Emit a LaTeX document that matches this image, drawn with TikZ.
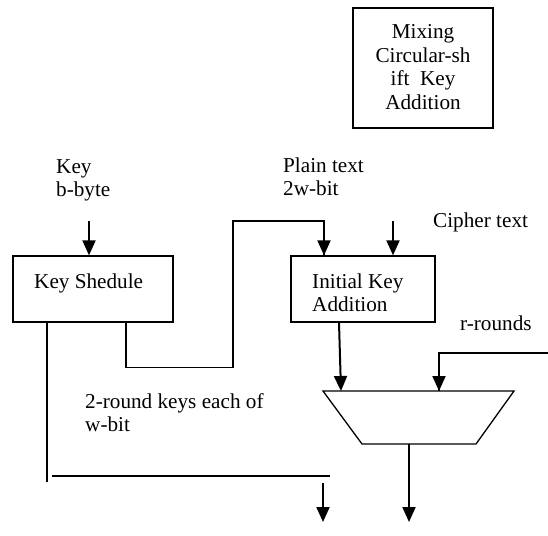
\documentclass[tikz,border=0pt]{standalone}
\usepackage{fontspec}
\setmainfont{Liberation Serif}
\usetikzlibrary{arrows.meta}
\newcommand\lbfont{\fontsize{21.2}{23.5}\selectfont}
\begin{document}
\begin{tikzpicture}[x=1pt,y=-1pt,
  box/.style={draw, line width=1.3pt, inner sep=0pt},
  lbl/.style={inner sep=0pt, font=\lbfont},
  wire/.style={line width=1.3pt},
  arr/.style={line width=2pt, -{Triangle[length=15pt,width=13pt]}},
]
\useasboundingbox[fill=white] (0,0) rectangle (548,535);

% blocks
\node[box, minimum width=140pt, minimum height=120pt] (mix) at (423,68) {};
\node[box, minimum width=160pt, minimum height=66pt] (ks) at (93,289) {};
\node[box, minimum width=144pt, minimum height=66pt] (ika) at (363,289) {};

% mixing unit (trapezoid)
\coordinate (m1) at (323,391);
\coordinate (m2) at (514,391);
\coordinate (m3) at (476,444);
\coordinate (m4) at (362,444);
\draw[wire, line join=miter] (m1) -- (m2) -- (m3) -- (m4) -- cycle;

% texts
\node[lbl, anchor=base] (mixtxt) at (423,39)
  {\begin{tabular}[t]{@{}c@{}}Mixing\\Circular-sh\\ift~~Key\\Addition\end{tabular}};
\node[lbl, anchor=base west] (keytxt) at (56,173)
  {\begin{tabular}[t]{@{}l@{}}Key\\b-byte\end{tabular}};
\node[lbl, anchor=base west] (pttxt) at (283,172)
  {\begin{tabular}[t]{@{}l@{}}Plain text\\2w-bit\end{tabular}};
\node[lbl, anchor=base west] (cttxt) at (433,227) {Cipher text};
\node[lbl, anchor=base west] (rtxt) at (460,330) {r-rounds};
\node[lbl, anchor=base west] (kstxt) at (34,288) {Key Shedule};
\node[lbl, anchor=base west] (ikatxt) at (312,288)
  {\begin{tabular}[t]{@{}l@{}}Initial Key\\Addition\end{tabular}};
\node[lbl, anchor=base west] (rktxt) at (85,408)
  {\begin{tabular}[t]{@{}l@{}}2-round keys each of\\w-bit\end{tabular}};

% inputs
\coordinate (keyin) at (89,221);
\draw[arr] (keyin) -- (keyin |- ks.north);

\coordinate (ptin) at (324,221);
\coordinate (bend) at (233,221);
\draw[wire] ([xshift=33pt]ks.south) -- ++(0,45) -| (bend) -- (ptin) -- (ptin |- ika.north);
\draw[arr] (ptin) -- (ptin |- ika.north);

\coordinate (ctin) at (393,221);
\draw[arr] (ctin) -- (ctin |- ika.north);

% into the mixing unit
\coordinate (mxin1) at (341,391);
\draw[arr] ([xshift=-24pt]ika.south) -- (mxin1);

\coordinate (rin) at (548,353);
\coordinate (mxin2) at (439,391);
\draw[wire] (rin) -| (mxin2);
\draw[arr] (mxin2 |- rin) -- (mxin2);

% outputs
\coordinate (mxout) at (409,444);
\coordinate (out2) at (409,522);
\draw[arr] (mxout) -- (out2);

\coordinate (kend) at (47,482);
\draw[wire] ([xshift=-46pt]ks.south) -- (kend);
\coordinate (h1) at (52,476);
\coordinate (h2) at (330,476);
\draw[wire] (h1) -- (h2);
\coordinate (o1) at (323,483);
\coordinate (o1end) at (323,522);
\draw[arr] (o1) -- (o1end);
\end{tikzpicture}
\end{document}
